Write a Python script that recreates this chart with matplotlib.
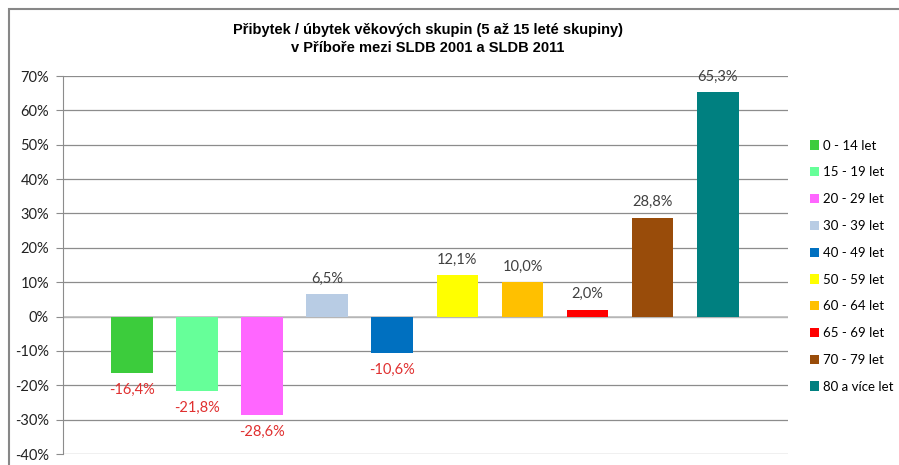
import matplotlib
matplotlib.use("Agg")
import matplotlib.pyplot as plt
from matplotlib.patches import Rectangle
from matplotlib.ticker import FuncFormatter

# data
skupiny = ["0 - 14 let", "15 - 19 let", "20 - 29 let", "30 - 39 let", "40 - 49 let",
           "50 - 59 let", "60 - 64 let", "65 - 69 let", "70 - 79 let", "80 a více let"]
zmena = [-16.4, -21.8, -28.6, 6.5, -10.6, 12.1, 10.0, 2.0, 28.8, 65.3]
barvy = ["#3CCC3C", "#66FF99", "#FF66FF", "#B8CCE4", "#0070C0",
         "#FFFF00", "#FFC000", "#FF0000", "#994C0A", "#008080"]
y_ticks = [-40, -30, -20, -10, 0, 10, 20, 30, 40, 50, 60, 70]

LBL_FONT = ["Lato", "Open Sans", "DejaVu Sans"]
TITLE_FONT = ["Liberation Sans Narrow", "Liberation Sans", "DejaVu Sans"]
GRID = "#8C8C8C"

fig = plt.figure(figsize=(8.99, 4.65), dpi=100)
fig.patch.set_facecolor("white")

# outer chart frame
fig.patches.append(Rectangle((9 / 899, -0.05), 1.0, 1.05 - 9 / 465,
                             transform=fig.transFigure, fill=False,
                             edgecolor="#878787", linewidth=1.5))

ax = fig.add_axes([63 / 899, 11 / 465, 725 / 899, 378 / 465])
x = list(range(len(zmena)))
bars = ax.bar(x, zmena, width=0.64, color=barvy, zorder=3)

ax.set_xlim(-1.06, 10.08)
ax.set_ylim(-40, 70)
ax.set_yticks(y_ticks)
ax.yaxis.set_major_formatter(FuncFormatter(lambda v, p: f"{v:.0f}%"))
ax.set_xticks([])
ax.grid(axis="y", color=GRID, linewidth=0.9, zorder=0)
ax.axhline(0, color="#BFBFBF", linewidth=1.2, zorder=2)
for s in ["top", "right", "bottom"]:
    ax.spines[s].set_visible(False)
ax.spines["left"].set_color(GRID)
ax.tick_params(axis="y", length=5, color=GRID, labelsize=10.5, pad=5,
               labelcolor="#222222")
for t in ax.get_yticklabels():
    t.set_family(LBL_FONT)

for xi, v in zip(x, zmena):
    txt = f"{v:.1f}%".replace(".", ",")
    if v >= 0:
        ax.annotate(txt, (xi, v), xytext=(0, 6), textcoords="offset points",
                    ha="center", va="bottom", fontsize=10.5, color="#404040",
                    family=LBL_FONT)
    else:
        ax.annotate(txt, (xi, v), xytext=(0, -7), textcoords="offset points",
                    ha="center", va="top", fontsize=10.5, color="#E03030",
                    family=LBL_FONT)

fig.text(428 / 899, 1 - 39 / 465,
         "Přibytek / úbytek věkových skupin (5 až 15 leté skupiny)\nv Příboře mezi SLDB 2001 a SLDB 2011",
         ha="center", va="center", fontsize=10.5, fontweight="bold",
         family=TITLE_FONT, linespacing=1.3)

leg = ax.legend(bars, skupiny, loc="upper left",
                bbox_to_anchor=(807 / 899, 1 - 137 / 465), bbox_transform=fig.transFigure,
                frameon=False, handlelength=0.7, handleheight=0.7, handletextpad=0.35,
                labelspacing=1.12, borderaxespad=0, borderpad=0.2,
                prop={"family": LBL_FONT, "size": 9.5})

fig.savefig("out.png", dpi=100)
